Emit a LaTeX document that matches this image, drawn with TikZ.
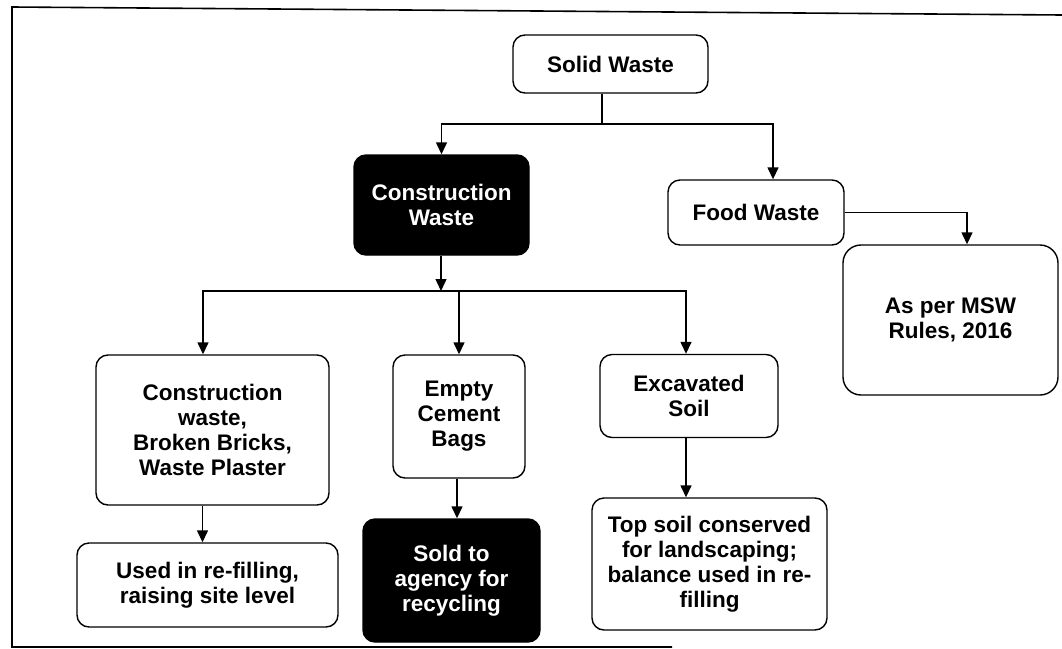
\documentclass[tikz,border=0pt]{standalone}
\usepackage{fontspec}
\setmainfont{Liberation Sans}
\usetikzlibrary{arrows.meta}

\tikzset{
  box/.style={draw=black, line width=1.4pt, fill=white, rounded corners=12pt,
    align=center, inner sep=2pt,
    font=\bfseries\fontsize{22.5}{25}\selectfont},
  darkbox/.style={box, fill=black, text=white},
  arr/.style={line width=1.4pt, -{Triangle[length=12pt,width=11pt]}},
  link/.style={line width=1.4pt},
}

\begin{document}
\begin{tikzpicture}[x=1pt,y=-1pt]
\useasboundingbox (0,0) rectangle (1062,648);

% outer frame (open on the right)
\draw[line width=1.6pt] (1062,15) -- (12,7) -- (12,647) -- (672,647);

% boxes
\node[box, minimum width=195pt, minimum height=58pt] (sw) at (610.5,64) {Solid Waste};
\node[darkbox, minimum width=175pt, minimum height=100pt] (cw) at (441.5,205) {Construction\\Waste};
\node[box, minimum width=176pt, minimum height=65pt] (fw) at (756,212.5) {Food Waste};
\node[box, minimum width=215pt, minimum height=150pt, rounded corners=18pt] (msw) at (950.5,320) {As per MSW\\Rules, 2016};
\node[box, minimum width=233pt, minimum height=150pt] (cwb) at (212.5,430) {Construction\\waste,\\Broken Bricks,\\Waste Plaster};
\node[box, minimum width=132pt, minimum height=123pt] (ecb) at (459,416.5) {Empty\\Cement\\Bags};
\node[box, minimum width=178pt, minimum height=83pt] (es) at (689,396) {Excavated\\Soil};
\node[box, minimum width=261pt, minimum height=84pt] (used) at (207.5,585) {Used in re-filling,\\raising site level};
\node[darkbox, minimum width=177pt, minimum height=123pt] (sold) at (451.5,580.5) {Sold to\\agency for\\recycling};
\node[box, minimum width=235pt, minimum height=132pt] (top) at (709.5,564) {Top soil conserved\\for landscaping;\\balance used in re-\\filling};

% junction points
\coordinate (j1) at (602,124);
\coordinate (j2) at (441,291);

% connectors
\draw[link] (sw.south -| j1) -- (j1);
\draw[arr] (j1) -| (cw.north);
\draw[arr] (j1) -| ([xshift=17pt]fw.north);
\draw[arr] (fw.east) -| ([xshift=16.5pt]msw.north);

\draw[arr] (cw.south -| j2) -- (j2);
\draw[arr] (j2) -| ([xshift=-9.5pt]cwb.north);
\draw[arr] (j2) -| (ecb.north);
\draw[arr] (j2) -| ([xshift=-3pt]es.north);

\draw[arr] ([xshift=-10pt]cwb.south) -- ([xshift=-10pt]cwb.south |- used.north);
\draw[arr] ([xshift=-2pt]ecb.south) -- ([xshift=-2pt]ecb.south |- sold.north);
\draw[arr] ([xshift=-3pt]es.south) -- ([xshift=-3pt]es.south |- top.north);
\end{tikzpicture}
\end{document}
